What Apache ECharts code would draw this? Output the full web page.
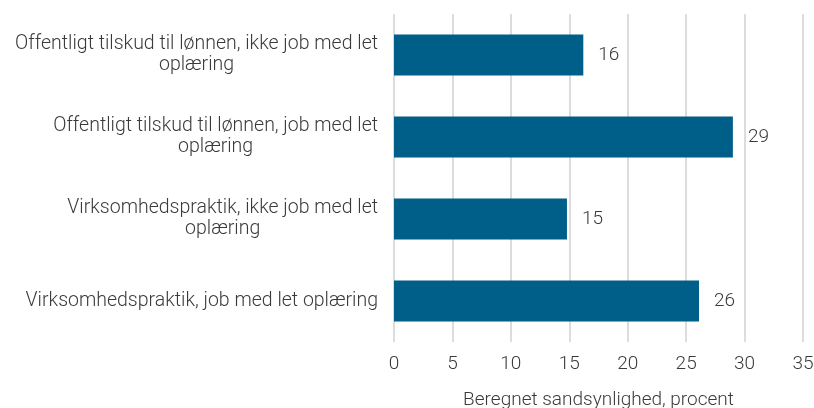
<!DOCTYPE html>
<html>
<head>
<meta charset="utf-8">
<script src="https://cdn.jsdelivr.net/npm/echarts@6/dist/echarts.min.js"></script>
<style>
  html, body { margin: 0; padding: 0; background: #fff; }
  #chart { width: 814px; height: 408px; }
</style>
</head>
<body>
<div id="chart"></div>
<script type="text/javascript">
// kategorier (top til bund)
var categories = [
  'Offentligt tilskud til lønnen, ikke job med let\noplæring',
  'Offentligt tilskud til lønnen, job med let\noplæring',
  'Virksomhedspraktik, ikke job med let\noplæring',
  'Virksomhedspraktik, job med let oplæring'
];
var values = [16.2, 29.0, 14.8, 26.1];
var xTicks = [0, 5, 10, 15, 20, 25, 30, 35];
var xName = 'Beregnet sandsynlighed, procent';

var fontFam = 'Roboto, "Noto Sans", sans-serif';
var txtColor = '#3a3a3a';
var chart = echarts.init(document.getElementById('chart'));

var option = {
  animation: false,
  grid: { left: 394, right: 11, top: 14, bottom: 66, containLabel: false, outerBoundsMode: 'none' },
  xAxis: {
    type: 'value',
    min: xTicks[0],
    max: xTicks[xTicks.length - 1],
    interval: 5,
    name: xName,
    nameLocation: 'middle',
    nameGap: 49,
    nameTextStyle: { fontFamily: fontFam, fontSize: 19, fontWeight: 300, color: txtColor },
    axisLine: { show: false },
    axisTick: { show: false },
    axisLabel: { fontFamily: fontFam, fontSize: 19, fontWeight: 300, color: txtColor, margin: 13 },
    splitLine: { show: true, lineStyle: { color: '#d0d0d0', width: 1.5 } }
  },
  yAxis: {
    type: 'category',
    data: categories,
    inverse: true,
    axisLine: { show: false },
    axisTick: { show: false },
    axisLabel: {
      fontFamily: fontFam,
      fontSize: 19.5,
      fontWeight: 300,
      color: txtColor,
      margin: 16,
      lineHeight: 21,
      formatter: function (v) {
        return v.split('\n').map(function (l) { return '{c|' + l + '}'; }).join('\n');
      },
      rich: {
        c: { align: 'center', fontFamily: fontFam, fontSize: 19.5, fontWeight: 300, color: txtColor, lineHeight: 21 }
      }
    }
  },
  series: [{
    type: 'bar',
    data: values,
    barWidth: '50%',
    itemStyle: { color: '#005f88' },
    label: {
      show: true,
      position: 'right',
      distance: 15,
      fontFamily: fontFam,
      fontSize: 19,
      fontWeight: 300,
      color: txtColor,
      formatter: function (p) { return Math.round(p.value); }
    }
  }]
};
chart.setOption(option);
</script>
</body>
</html>
